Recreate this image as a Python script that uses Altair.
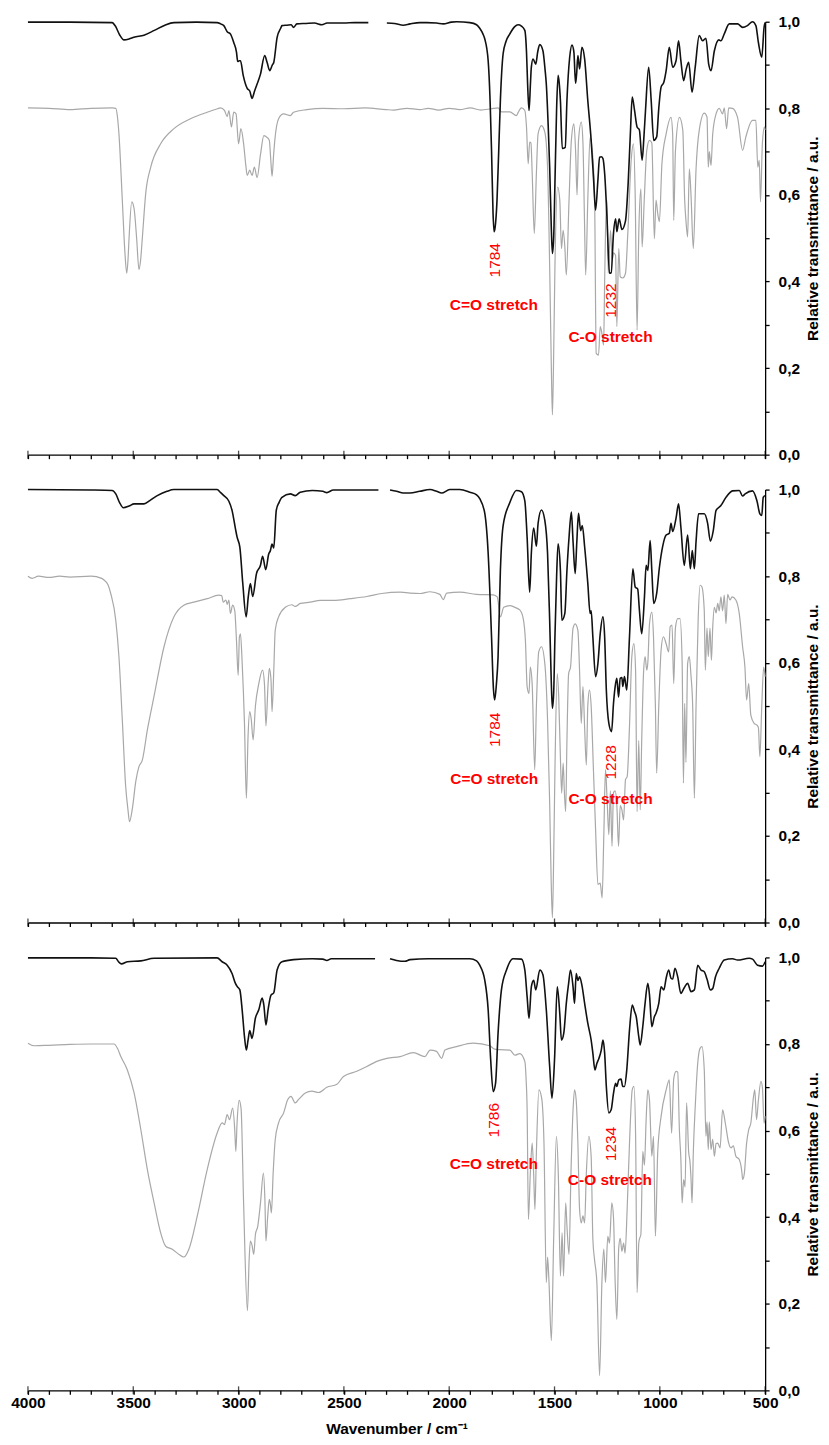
import altair as alt
import pandas as pd

FONT = "Liberation Sans"

# ---------------- data (wavenumber cm-1, relative transmittance) ----------------
P1_BLACK = [(4000, 0.999), (3800, 0.999), (3600, 0.998), (3585, 0.99), (3565, 0.97), (3544, 0.958), (3520, 0.96),
            (3497, 0.964), (3449, 0.969), (3400, 0.98), (3350, 0.992), (3307, 0.998), (3200, 0.999), (3102, 0.998),
            (3085, 0.995), (3070, 0.991), (3054, 0.977), (3039, 0.972), (3023, 0.952), (3010, 0.93), (3004, 0.908),
            (2996, 0.91), (2991, 0.91), (2978, 0.876), (2959, 0.846), (2947, 0.84), (2936, 0.823), (2924, 0.84),
            (2912, 0.856), (2896, 0.879), (2876, 0.922), (2864, 0.905), (2852, 0.887), (2840, 0.9), (2833, 0.906),
            (2817, 0.964), (2800, 0.985), (2794, 0.991), (2770, 0.992), (2750, 0.993), (2739, 0.987), (2723, 0.995),
            (2680, 0.996), (2640, 0.997), (2604, 0.993), (2580, 0.997), (2500, 0.997), (2450, 0.998), (2384, 0.998),
            (2296, 0.997), (2260, 0.996), (2218, 0.992), (2186, 0.995), (2139, 0.998), (2107, 0.998), (2060, 0.997),
            (2028, 0.995), (1990, 0.999), (1965, 1.0), (1902, 0.998), (1870, 0.993), (1855, 0.985), (1840, 0.972),
            (1831, 0.96), (1815, 0.91), (1806, 0.82), (1799, 0.703), (1792, 0.56), (1787, 0.515), (1782, 0.525),
            (1773, 0.588), (1765, 0.7), (1757, 0.818), (1744, 0.926), (1730, 0.955), (1712, 0.972), (1690, 0.988),
            (1673, 0.993), (1657, 0.99), (1641, 0.98), (1633, 0.93), (1628, 0.86), (1621, 0.795), (1614, 0.86),
            (1610, 0.895), (1602, 0.914), (1589, 0.902), (1580, 0.93), (1570, 0.947), (1555, 0.933), (1545, 0.89),
            (1539, 0.856), (1530, 0.76), (1523, 0.664), (1515, 0.52), (1510, 0.465), (1504, 0.5), (1498, 0.626),
            (1490, 0.8), (1483, 0.876), (1478, 0.86), (1472, 0.818), (1463, 0.707), (1449, 0.71), (1441, 0.818),
            (1428, 0.918), (1417, 0.946), (1408, 0.93), (1400, 0.858), (1395, 0.88), (1389, 0.922), (1381, 0.891),
            (1370, 0.941), (1357, 0.914), (1342, 0.818), (1326, 0.726), (1315, 0.64), (1305, 0.565), (1294, 0.634),
            (1286, 0.687), (1278, 0.688), (1270, 0.684), (1262, 0.65), (1251, 0.549), (1239, 0.419), (1231, 0.42),
            (1220, 0.511), (1210, 0.545), (1204, 0.515), (1193, 0.545), (1180, 0.52), (1163, 0.54), (1150, 0.63),
            (1140, 0.74), (1131, 0.826), (1120, 0.795), (1108, 0.757), (1097, 0.75), (1084, 0.68), (1076, 0.73),
            (1068, 0.795), (1053, 0.895), (1041, 0.818), (1029, 0.726), (1015, 0.734), (1005, 0.8), (994, 0.849),
            (981, 0.86), (970, 0.887), (955, 0.941), (939, 0.895), (923, 0.91), (911, 0.956), (900, 0.91),
            (887, 0.864), (875, 0.89), (863, 0.906), (847, 0.837), (832, 0.895), (813, 0.968), (797, 0.956),
            (781, 0.962), (768, 0.902), (757, 0.887), (741, 0.933), (720, 0.958), (710, 0.956), (694, 0.972),
            (670, 0.995), (631, 0.995), (607, 0.987), (584, 0.991), (560, 1.0), (544, 0.991), (532, 0.952),
            (516, 0.918), (505, 0.987), (500, 0.998)]

P1_GREY = [(4000, 0.801), (3900, 0.8), (3800, 0.797), (3700, 0.8), (3600, 0.801), (3583, 0.8), (3575, 0.78),
           (3568, 0.741), (3552, 0.588), (3540, 0.47), (3531, 0.419), (3525, 0.45), (3520, 0.5), (3507, 0.584),
           (3496, 0.568), (3484, 0.5), (3473, 0.428), (3465, 0.45), (3457, 0.5), (3441, 0.603), (3417, 0.664),
           (3370, 0.718), (3307, 0.753), (3228, 0.776), (3149, 0.791), (3100, 0.799), (3086, 0.801), (3067, 0.795),
           (3054, 0.781), (3046, 0.795), (3034, 0.757), (3023, 0.791), (3012, 0.787), (3000, 0.718), (2989, 0.753),
           (2976, 0.718), (2966, 0.67), (2959, 0.645), (2947, 0.657), (2936, 0.645), (2925, 0.664), (2912, 0.64),
           (2896, 0.693), (2880, 0.737), (2865, 0.733), (2854, 0.726), (2847, 0.68), (2841, 0.643), (2834, 0.69),
           (2828, 0.726), (2810, 0.776), (2786, 0.787), (2754, 0.783), (2739, 0.791), (2676, 0.797), (2600, 0.8),
           (2500, 0.799), (2400, 0.801), (2300, 0.797), (2265, 0.796), (2200, 0.8), (2140, 0.797), (2100, 0.8),
           (2050, 0.796), (2000, 0.8), (1950, 0.797), (1900, 0.801), (1850, 0.796), (1800, 0.799), (1768, 0.801),
           (1752, 0.792), (1712, 0.792), (1681, 0.783), (1673, 0.79), (1657, 0.801), (1641, 0.795), (1633, 0.757),
           (1625, 0.672), (1618, 0.722), (1612, 0.72), (1606, 0.65), (1596, 0.511), (1586, 0.65), (1578, 0.741),
           (1562, 0.76), (1546, 0.745), (1533, 0.664), (1523, 0.434), (1515, 0.2), (1510, 0.092), (1505, 0.2),
           (1498, 0.434), (1485, 0.618), (1475, 0.588), (1467, 0.476), (1459, 0.518), (1451, 0.48), (1444, 0.415),
           (1431, 0.588), (1420, 0.726), (1408, 0.764), (1400, 0.703), (1393, 0.6), (1386, 0.726), (1373, 0.768),
           (1365, 0.72), (1358, 0.55), (1352, 0.415), (1342, 0.588), (1331, 0.733), (1321, 0.703), (1310, 0.603),
           (1302, 0.234), (1291, 0.23), (1283, 0.296), (1275, 0.28), (1267, 0.253), (1262, 0.4), (1258, 0.511),
           (1251, 0.588), (1245, 0.419), (1234, 0.518), (1226, 0.451), (1220, 0.466), (1210, 0.46), (1204, 0.296),
           (1195, 0.476), (1188, 0.411), (1176, 0.408), (1163, 0.419), (1152, 0.511), (1136, 0.68), (1125, 0.718),
           (1117, 0.6), (1108, 0.288), (1100, 0.511), (1090, 0.614), (1084, 0.48), (1074, 0.588), (1062, 0.703),
           (1049, 0.726), (1038, 0.72), (1026, 0.499), (1018, 0.588), (1010, 0.557), (1002, 0.538), (990, 0.672),
           (970, 0.741), (947, 0.779), (939, 0.74), (934, 0.541), (926, 0.7), (907, 0.779), (891, 0.75),
           (882, 0.588), (876, 0.541), (868, 0.503), (860, 0.66), (852, 0.6), (841, 0.476), (828, 0.66),
           (813, 0.749), (789, 0.789), (776, 0.78), (770, 0.664), (765, 0.7), (757, 0.668), (749, 0.74),
           (733, 0.787), (718, 0.8), (702, 0.787), (694, 0.801), (683, 0.753), (673, 0.801), (655, 0.8),
           (631, 0.779), (607, 0.703), (592, 0.733), (560, 0.772), (544, 0.772), (535, 0.664), (528, 0.68),
           (522, 0.584), (513, 0.72), (503, 0.757), (500, 0.75)]

P2_BLACK = [(4000, 1.0), (3700, 0.999), (3600, 0.998), (3583, 0.99), (3565, 0.97), (3547, 0.958), (3520, 0.962),
            (3496, 0.967), (3449, 0.967), (3420, 0.975), (3386, 0.986), (3340, 0.996), (3307, 1.0), (3102, 1.0),
            (3085, 0.993), (3070, 0.986), (3046, 0.973), (3031, 0.952), (3015, 0.91), (3007, 0.89), (2994, 0.867),
            (2980, 0.783), (2964, 0.706), (2954, 0.752), (2944, 0.783), (2933, 0.753), (2915, 0.806), (2896, 0.825),
            (2886, 0.846), (2871, 0.815), (2857, 0.851), (2849, 0.859), (2841, 0.874), (2833, 0.865), (2821, 0.952),
            (2808, 0.97), (2794, 0.982), (2754, 0.99), (2731, 0.986), (2707, 0.994), (2650, 0.998), (2600, 0.996),
            (2581, 0.993), (2550, 0.999), (2450, 0.999), (2336, 0.999),
            (2281, 0.999), (2250, 0.996), (2218, 0.992), (2186, 0.992), (2140, 0.996), (2091, 1.0), (2060, 0.996),
            (2036, 0.992), (1997, 1.0), (1950, 1.0), (1902, 0.994), (1870, 0.988), (1855, 0.979), (1831, 0.945),
            (1815, 0.853), (1799, 0.66), (1790, 0.54), (1784, 0.514), (1776, 0.55), (1768, 0.613), (1757, 0.813),
            (1744, 0.917), (1712, 0.97), (1681, 0.998), (1657, 0.995), (1641, 0.974), (1630, 0.889), (1618, 0.763),
            (1610, 0.853), (1599, 0.911), (1586, 0.869), (1578, 0.922), (1562, 0.953), (1546, 0.929), (1533, 0.853),
            (1523, 0.698), (1515, 0.55), (1510, 0.495), (1504, 0.53), (1498, 0.66), (1490, 0.8), (1483, 0.875),
            (1472, 0.813), (1465, 0.698), (1451, 0.714), (1441, 0.813), (1431, 0.89), (1420, 0.948), (1412, 0.88),
            (1402, 0.806), (1394, 0.88), (1386, 0.945), (1376, 0.905), (1368, 0.917), (1357, 0.868), (1342, 0.784),
            (1331, 0.714), (1326, 0.72), (1318, 0.66), (1305, 0.568), (1294, 0.598), (1283, 0.667), (1270, 0.706),
            (1262, 0.66), (1254, 0.537), (1242, 0.46), (1229, 0.441), (1220, 0.506), (1210, 0.552), (1204, 0.564),
            (1196, 0.521), (1188, 0.564), (1180, 0.566), (1176, 0.545), (1168, 0.568), (1157, 0.537), (1144, 0.66),
            (1128, 0.817), (1117, 0.775), (1105, 0.77), (1097, 0.722), (1086, 0.667), (1073, 0.752), (1065, 0.825),
            (1057, 0.813), (1046, 0.882), (1038, 0.813), (1029, 0.737), (1015, 0.76), (1002, 0.82), (986, 0.87),
            (970, 0.895), (955, 0.899), (947, 0.922), (939, 0.903), (923, 0.934), (911, 0.967), (900, 0.913),
            (884, 0.825), (868, 0.895), (855, 0.817), (846, 0.859), (836, 0.817), (828, 0.88), (816, 0.944),
            (789, 0.944), (773, 0.922), (760, 0.881), (746, 0.906), (733, 0.952), (710, 0.963), (686, 0.982),
            (655, 0.997), (623, 0.998), (607, 0.985), (595, 0.99), (560, 0.997), (539, 0.974), (525, 0.944),
            (516, 0.94), (509, 0.982), (500, 0.986)]

P2_GREY = [(4000, 0.8), (3980, 0.795), (3950, 0.8), (3900, 0.797), (3850, 0.8), (3800, 0.798), (3700, 0.8),
           (3650, 0.795), (3639, 0.791), (3620, 0.78), (3607, 0.76), (3583, 0.698), (3568, 0.614), (3552, 0.468),
           (3536, 0.314), (3525, 0.26), (3518, 0.233), (3504, 0.264), (3488, 0.326), (3473, 0.36), (3457, 0.375),
           (3433, 0.445), (3402, 0.521), (3354, 0.637), (3307, 0.706), (3260, 0.733), (3212, 0.74), (3149, 0.748),
           (3094, 0.756), (3080, 0.755), (3073, 0.74), (3060, 0.745), (3054, 0.735), (3046, 0.745), (3039, 0.714),
           (3028, 0.733), (3018, 0.72), (3010, 0.652), (3002, 0.571), (2996, 0.66), (2991, 0.667), (2983, 0.6),
           (2972, 0.46), (2963, 0.287), (2955, 0.43), (2947, 0.487), (2940, 0.47), (2931, 0.422), (2920, 0.5),
           (2904, 0.552), (2886, 0.583), (2877, 0.55), (2870, 0.454), (2860, 0.55), (2854, 0.587), (2846, 0.56),
           (2841, 0.487), (2833, 0.58), (2826, 0.675), (2810, 0.706), (2778, 0.728), (2747, 0.734), (2731, 0.73),
           (2707, 0.737), (2660, 0.74), (2612, 0.744), (2549, 0.744), (2470, 0.748), (2391, 0.753), (2320, 0.76),
           (2233, 0.763), (2186, 0.761), (2139, 0.76), (2091, 0.764), (2044, 0.758), (2028, 0.746), (2012, 0.761),
           (1949, 0.763), (1870, 0.758), (1791, 0.757), (1772, 0.752), (1757, 0.706), (1741, 0.728), (1712, 0.732),
           (1688, 0.728), (1665, 0.722), (1649, 0.703), (1638, 0.65), (1630, 0.545), (1621, 0.529), (1615, 0.59),
           (1606, 0.55), (1594, 0.353), (1586, 0.5), (1575, 0.625), (1562, 0.637), (1546, 0.598), (1533, 0.468),
           (1523, 0.276), (1516, 0.1), (1510, 0.011), (1504, 0.15), (1498, 0.35), (1487, 0.575), (1480, 0.52),
           (1472, 0.38), (1466, 0.299), (1459, 0.368), (1453, 0.3), (1447, 0.256), (1441, 0.42), (1433, 0.575),
           (1424, 0.59), (1412, 0.68), (1402, 0.69), (1389, 0.675), (1381, 0.58), (1373, 0.46), (1365, 0.545),
           (1357, 0.45), (1349, 0.364), (1342, 0.5), (1334, 0.537), (1326, 0.5), (1315, 0.35), (1305, 0.215),
           (1294, 0.088), (1283, 0.091), (1274, 0.057), (1266, 0.2), (1258, 0.353), (1250, 0.28), (1242, 0.203),
           (1235, 0.304), (1227, 0.176), (1220, 0.3), (1212, 0.304), (1204, 0.27), (1196, 0.176), (1188, 0.27),
           (1180, 0.26), (1172, 0.237), (1163, 0.33), (1155, 0.337), (1144, 0.453), (1133, 0.614), (1123, 0.644),
           (1115, 0.58), (1108, 0.256), (1100, 0.42), (1093, 0.26), (1086, 0.42), (1077, 0.58), (1070, 0.614),
           (1062, 0.583), (1057, 0.6), (1049, 0.69), (1038, 0.717), (1030, 0.66), (1021, 0.5), (1015, 0.345),
           (1005, 0.5), (994, 0.629), (983, 0.66), (970, 0.644), (958, 0.625), (951, 0.683), (942, 0.687),
           (934, 0.552), (926, 0.68), (915, 0.702), (904, 0.702), (894, 0.6), (888, 0.322), (882, 0.506),
           (876, 0.37), (868, 0.598), (860, 0.614), (852, 0.57), (844, 0.5), (836, 0.287), (828, 0.5),
           (818, 0.7), (809, 0.779), (800, 0.775), (789, 0.72), (784, 0.583), (776, 0.68), (770, 0.614),
           (762, 0.68), (755, 0.606), (749, 0.68), (741, 0.728), (733, 0.715), (725, 0.737), (718, 0.72),
           (710, 0.752), (702, 0.72), (694, 0.756), (686, 0.69), (678, 0.758), (667, 0.745), (657, 0.752),
           (639, 0.745), (623, 0.714), (607, 0.637), (596, 0.59), (588, 0.514), (578, 0.552), (568, 0.479),
           (552, 0.46), (539, 0.456), (532, 0.45), (525, 0.383), (516, 0.5), (507, 0.59), (500, 0.568)]

P3_BLACK = [(4000, 0.999), (3700, 0.999), (3583, 0.998), (3570, 0.99), (3556, 0.985), (3527, 0.99), (3464, 0.992),
            (3401, 0.998), (3102, 0.999), (3078, 0.99), (3054, 0.982), (3031, 0.963), (3015, 0.94), (3007, 0.933),
            (2994, 0.925), (2983, 0.879), (2972, 0.817), (2963, 0.786), (2955, 0.809), (2947, 0.831), (2936, 0.813),
            (2920, 0.86), (2904, 0.879), (2888, 0.906), (2880, 0.89), (2870, 0.844), (2860, 0.879), (2846, 0.913),
            (2833, 0.918), (2817, 0.971), (2794, 0.99), (2739, 0.995), (2650, 0.997), (2600, 0.996), (2581, 0.993),
            (2560, 0.997), (2450, 0.997), (2352, 0.997),
            (2281, 0.997), (2250, 0.993), (2210, 0.991), (2186, 0.995), (2100, 0.997), (2044, 0.997), (1902, 0.997),
            (1870, 0.992), (1855, 0.982), (1831, 0.947), (1815, 0.879), (1803, 0.763), (1791, 0.69), (1780, 0.709),
            (1768, 0.825), (1752, 0.925), (1728, 0.971), (1697, 0.997), (1657, 0.996), (1641, 0.971), (1630, 0.909),
            (1621, 0.859), (1610, 0.932), (1599, 0.947), (1589, 0.925), (1570, 0.971), (1555, 0.96), (1539, 0.879),
            (1523, 0.748), (1512, 0.675), (1500, 0.763), (1487, 0.932), (1475, 0.87), (1467, 0.809), (1456, 0.825),
            (1444, 0.894), (1433, 0.94), (1424, 0.971), (1412, 0.932), (1405, 0.894), (1397, 0.963), (1389, 0.947),
            (1381, 0.955), (1370, 0.936), (1357, 0.894), (1342, 0.848), (1326, 0.809), (1318, 0.779), (1308, 0.74),
            (1299, 0.755), (1289, 0.767), (1278, 0.786), (1270, 0.809), (1262, 0.779), (1254, 0.702), (1242, 0.641),
            (1231, 0.648), (1220, 0.686), (1210, 0.709), (1204, 0.702), (1195, 0.717), (1184, 0.719), (1176, 0.702),
            (1168, 0.702), (1157, 0.74), (1144, 0.832), (1131, 0.89), (1120, 0.875), (1112, 0.863), (1100, 0.817),
            (1093, 0.798), (1081, 0.84), (1070, 0.894), (1057, 0.94), (1049, 0.913), (1038, 0.84), (1026, 0.863),
            (1018, 0.871), (1005, 0.894), (994, 0.932), (981, 0.925), (970, 0.952), (958, 0.971), (947, 0.952),
            (939, 0.95), (928, 0.975), (915, 0.955), (900, 0.917), (884, 0.93), (868, 0.94), (852, 0.921),
            (836, 0.925), (820, 0.982), (805, 0.971), (789, 0.967), (776, 0.95), (760, 0.925), (749, 0.928),
            (736, 0.955), (718, 0.975), (694, 0.994), (655, 0.997), (631, 0.994), (576, 0.998), (560, 0.996),
            (536, 0.982), (513, 0.98), (500, 0.99)]

P3_GREY = [(4000, 0.802), (3970, 0.796), (3900, 0.797), (3800, 0.799), (3700, 0.8), (3591, 0.8), (3575, 0.79),
           (3559, 0.771), (3528, 0.74), (3496, 0.687), (3464, 0.602), (3433, 0.51), (3401, 0.433), (3370, 0.364),
           (3346, 0.333), (3315, 0.326), (3283, 0.314), (3260, 0.308), (3236, 0.326), (3196, 0.403), (3149, 0.51),
           (3102, 0.594), (3078, 0.618), (3067, 0.614), (3054, 0.637), (3043, 0.625), (3028, 0.652), (3018, 0.6),
           (3013, 0.552), (3007, 0.62), (2997, 0.67), (2988, 0.65), (2976, 0.43), (2958, 0.184), (2950, 0.3),
           (2944, 0.345), (2936, 0.335), (2928, 0.314), (2920, 0.36), (2909, 0.379), (2896, 0.433), (2882, 0.502),
           (2875, 0.44), (2870, 0.345), (2862, 0.4), (2854, 0.441), (2849, 0.43), (2844, 0.41), (2836, 0.5),
           (2826, 0.579), (2810, 0.618), (2786, 0.641), (2767, 0.671), (2751, 0.679), (2731, 0.664), (2715, 0.672),
           (2683, 0.687), (2652, 0.691), (2620, 0.688), (2581, 0.7), (2533, 0.707), (2502, 0.725), (2439, 0.737),
           (2391, 0.748), (2344, 0.76), (2296, 0.767), (2233, 0.771), (2170, 0.78), (2115, 0.771), (2091, 0.786),
           (2060, 0.783), (2036, 0.767), (2020, 0.786), (1965, 0.794), (1886, 0.802), (1807, 0.796), (1784, 0.788),
           (1760, 0.787), (1712, 0.786), (1688, 0.774), (1665, 0.778), (1641, 0.76), (1635, 0.72), (1630, 0.648),
           (1624, 0.395), (1615, 0.5), (1606, 0.571), (1599, 0.5), (1593, 0.418), (1586, 0.55), (1574, 0.694),
           (1561, 0.675), (1550, 0.571), (1539, 0.249), (1533, 0.308), (1527, 0.26), (1515, 0.115), (1504, 0.35),
           (1491, 0.587), (1482, 0.5), (1472, 0.264), (1464, 0.364), (1457, 0.264), (1447, 0.433), (1441, 0.38),
           (1431, 0.314), (1422, 0.5), (1412, 0.648), (1405, 0.694), (1397, 0.67), (1389, 0.571), (1381, 0.418),
           (1373, 0.387), (1365, 0.403), (1357, 0.387), (1349, 0.5), (1337, 0.587), (1326, 0.54), (1318, 0.35),
           (1310, 0.302), (1299, 0.25), (1286, 0.034), (1275, 0.25), (1266, 0.326), (1258, 0.249), (1247, 0.356),
           (1239, 0.34), (1228, 0.433), (1220, 0.4), (1212, 0.25), (1204, 0.164), (1195, 0.33), (1188, 0.351),
           (1180, 0.321), (1172, 0.34), (1165, 0.317), (1155, 0.42), (1144, 0.571), (1131, 0.694), (1123, 0.702),
           (1115, 0.59), (1108, 0.226), (1100, 0.34), (1097, 0.349), (1090, 0.36), (1081, 0.552), (1073, 0.52),
           (1065, 0.625), (1057, 0.694), (1049, 0.67), (1038, 0.541), (1030, 0.587), (1021, 0.356), (1010, 0.55),
           (994, 0.633), (970, 0.694), (955, 0.717), (944, 0.594), (934, 0.72), (923, 0.737), (915, 0.735),
           (907, 0.6), (900, 0.533), (894, 0.433), (887, 0.487), (880, 0.47), (873, 0.664), (863, 0.55),
           (857, 0.529), (852, 0.49), (847, 0.433), (841, 0.55), (831, 0.664), (820, 0.756), (809, 0.79),
           (800, 0.794), (789, 0.74), (781, 0.587), (776, 0.62), (770, 0.556), (765, 0.62), (757, 0.556),
           (749, 0.58), (741, 0.541), (733, 0.57), (725, 0.571), (714, 0.56), (702, 0.648), (689, 0.617),
           (673, 0.571), (662, 0.56), (651, 0.565), (639, 0.541), (623, 0.533), (610, 0.502), (607, 0.487),
           (599, 0.5), (588, 0.571), (578, 0.602), (568, 0.617), (555, 0.679), (549, 0.694), (541, 0.625),
           (532, 0.67), (520, 0.714), (513, 0.7), (505, 0.617), (500, 0.633)]

# missing stretch of the black spectra (CO2 region cut out)
GAPS = [(2384, 2296), (2336, 2281), (2352, 2281)]

# annotations: (text, wavenumber position, transmittance position)
PEAK_LABELS = [[("1784", 1784, 0.449), ("1232", 1231, 0.356)],
               [("1784", 1784, 0.445), ("1228", 1231, 0.37)],
               [("1786", 1788, 0.624), ("1234", 1231, 0.569)]]
BAND_LABELS = [[("C=O stretch", 1788, 0.346), ("C-O stretch", 1234, 0.272)],
               [("C=O stretch", 1786, 0.332), ("C-O stretch", 1234, 0.286)],
               [("C=O stretch", 1788, 0.523), ("C-O stretch", 1237, 0.486)]]

X_TICKS = list(range(500, 4001, 100))
X_MAJOR = list(range(500, 4001, 500))
Y_TICKS = [i / 10 for i in range(0, 11)]

W, H = 739, 434


def to_df(pairs, name, gap=None):
    rows = []
    for w, t in pairs:
        seg = 0 if (gap is None or w >= gap[0]) else 1
        rows.append({"wn": w, "t": t, "seg": f"{name}{seg}"})
    return pd.DataFrame(rows)


def panel(black, grey, gap, peaks, bands, bottom):
    xaxis = dict(values=X_TICKS, tickSize=4, tickWidth=1.3, tickColor="black", domainColor="black",
                 domainWidth=1.3, grid=False, labelFlush=False, labelOverlap=False)
    if bottom:
        xaxis.update(labels=True, labelExpr="datum.value % 500 == 0 ? format(datum.value, 'd') : ''",
                     labelFont=FONT, labelFontSize=15.5, labelFontWeight="bold", labelColor="black",
                     labelPadding=1, title="Wavenumber / cm\u207b\u00b9", titleFont=FONT, titleFontSize=15.5,
                     titleFontWeight="bold", titleColor="black", titlePadding=11)
    else:
        xaxis.update(labels=False, title="")
    X = alt.X("wn:Q", scale=alt.Scale(domain=[500, 4000], reverse=True, nice=False, zero=False),
              axis=alt.Axis(**xaxis))
    Y = alt.Y("t:Q", scale=alt.Scale(domain=[0, 1], nice=False),
              axis=alt.Axis(orient="right", values=Y_TICKS, tickSize=4, tickWidth=1.3, tickColor="black",
                            domainColor="black", domainWidth=1.3, grid=False,
                            labelExpr="round(datum.value*10) % 2 == 0 ? replace(format(datum.value, '.1f'), '.', ',') : ''",
                            labelFont=FONT, labelFontSize=15.5, labelFontWeight="bold", labelColor="black",
                            labelPadding=9, labelOverlap=False, labelFlush=False,
                            title="Relative transmittance / a.u.", titleFont=FONT, titleFontSize=15.5,
                            titleFontWeight="bold", titleColor="black", titleAngle=270, titleBaseline="middle",
                            titleAlign="center", titleX=47, titleY=H / 2))

    g = alt.Chart(to_df(grey, "g")).mark_line(color="#a8a8a8", strokeWidth=1.2, interpolate="monotone").encode(
        x=X, y=Y, detail="seg:N")
    b = alt.Chart(to_df(black, "b", gap)).mark_line(color="#111111", strokeWidth=1.6, interpolate="monotone").encode(
        x=X, y=Y, detail="seg:N")
    ticks = alt.Chart(pd.DataFrame({"wn": X_MAJOR})).mark_tick(
        orient="vertical", size=8, thickness=1.3, color="black").encode(x=X, y=alt.datum(0))
    pk = pd.DataFrame(peaks, columns=["label", "wn", "t"])
    bd = pd.DataFrame(bands, columns=["label", "wn", "t"])
    ptxt = alt.Chart(pk).mark_text(angle=270, color="#ff0000", font=FONT, fontSize=15.5, align="center",
                                   baseline="middle").encode(x=X, y=Y, text="label:N")
    btxt = alt.Chart(bd).mark_text(color="#ff0000", font=FONT, fontSize=15.5, fontWeight="bold", align="center",
                                   baseline="middle").encode(x=X, y=Y, text="label:N")
    return alt.layer(g, b, ticks, ptxt, btxt).properties(width=W, height=H)


panels = []
data = [(P1_BLACK, P1_GREY), (P2_BLACK, P2_GREY), (P3_BLACK, P3_GREY)]
for i, (bl, gr) in enumerate(data):
    panels.append(panel(bl, gr, GAPS[i], PEAK_LABELS[i], BAND_LABELS[i], i == 2))

chart = alt.vconcat(*panels, spacing=19).properties(
    padding={"left": 2, "top": 5, "right": 0, "bottom": 0}, background="white"
).configure_view(stroke=None)

chart.save("out.html", embed_options={"renderer": "svg", "actions": False})
